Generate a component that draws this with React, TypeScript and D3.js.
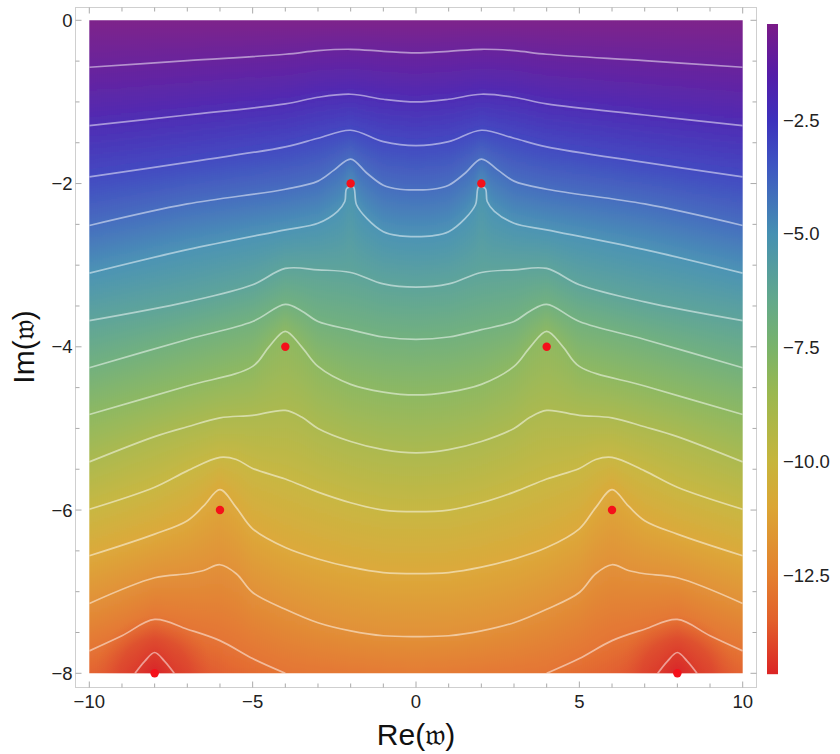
import React from 'react'
import * as d3 from 'd3'

type Knot = [number, number]

// contour lines, left half only (Re, Im); the plot is mirror symmetric about Re = 0
const contour1: Knot[] = [[-10, -0.575], [-7, -0.494], [-4, -0.416], [-3, -0.371], [-2, -0.355], [-1, -0.38], [0, -0.4]]
const contour2: Knot[] = [[-10, -1.29], [-7, -1.16], [-4, -1.024], [-3, -0.943], [-2, -0.906], [-1, -0.967], [0, -1.0]]
const contour3: Knot[] = [[-10, -1.918], [-7, -1.74], [-4, -1.55], [-3, -1.445], [-2, -1.347], [-1, -1.486], [0, -1.535]]
const contour4: Knot[] = [[-10, -2.514], [-7, -2.25], [-4, -2.07], [-3, -1.97], [-2.5, -1.833], [-2, -1.7], [-1.5, -1.874], [-1, -2.02], [-0.5, -2.07], [0, -2.078]]
const contour5: Knot[] = [[-10, -3.098], [-7, -2.81], [-4, -2.567], [-3, -2.486], [-2.4, -2.34], [-2.18, -2.22], [-2.12, -2.06], [-1.92, -2.04], [-1.82, -2.26], [-1.5, -2.43], [-1, -2.59], [-0.5, -2.64], [0, -2.65]]
const contour6: Knot[] = [[-10, -3.68], [-7, -3.45], [-5, -3.24], [-4, -3.04], [-3, -3.057], [-2, -3.09], [-1, -3.23], [0, -3.27]]
const contour7: Knot[] = [[-10, -4.257], [-7, -3.91], [-5, -3.69], [-4, -3.48], [-3.5, -3.56], [-3, -3.69], [-2, -3.79], [-1, -3.88], [0, -3.91]]
const contour8: Knot[] = [[-10, -4.83], [-7, -4.48], [-5, -4.24], [-4.5, -4.0], [-4, -3.81], [-3.5, -4.0], [-3, -4.24], [-2, -4.46], [-1, -4.555], [0, -4.59]]
const contour9: Knot[] = [[-10, -5.41], [-8, -5.1], [-7, -4.98], [-6, -4.87], [-5, -4.84], [-4, -4.78], [-3.5, -4.86], [-3, -5.0], [-2, -5.16], [-1, -5.26], [0, -5.3]]
const contour10: Knot[] = [[-10, -5.99], [-8, -5.72], [-7, -5.52], [-6, -5.355], [-5.5, -5.38], [-5, -5.49], [-4, -5.62], [-3, -5.78], [-2, -5.91], [-1, -6.0], [0, -6.02]]
const contour11: Knot[] = [[-10, -6.56], [-8, -6.295], [-7, -6.13], [-6.5, -5.95], [-6, -5.75], [-5.5, -5.97], [-5, -6.23], [-4, -6.46], [-3, -6.6], [-2, -6.7], [-1, -6.766], [0, -6.78]]
const contour12: Knot[] = [[-10, -7.145], [-8, -6.83], [-7, -6.78], [-6.5, -6.74], [-6, -6.67], [-5.5, -6.78], [-5, -7.01], [-4, -7.215], [-3, -7.38], [-2, -7.48], [-1, -7.54], [0, -7.55]]
const contour13: Knot[] = [[-10, -7.725], [-9, -7.54], [-8, -7.34], [-7, -7.46], [-6, -7.6], [-5, -7.82], [-4, -8]]
const contour14: Knot[] = [[-8.6, -8], [-8.3, -7.85], [-8, -7.745], [-7.7, -7.85], [-7.4, -8]]
const contours = [contour1, contour2, contour3, contour4, contour5, contour6, contour7, contour8, contour9, contour10, contour11, contour12, contour13, contour14]
const levels = [-1, -2, -3, -4, -5, -6, -7, -8, -9, -10, -11, -12, -13, -14]

// field value along the bottom edge of the plot (left half)
const bottomEdge: Knot[] = [[-10, -13.5], [-8.6, -14], [-8, -14.68], [-7.4, -14], [-6, -13.6], [-4, -13], [-2, -12.85], [0, -12.75]]
const topValue = -0.39
const minValue = -14.68

const poles: Knot[] = [[-8, -8], [-6, -6], [-4, -4], [-2, -2], [2, -2], [4, -4], [6, -6], [8, -8]]

const colorValues = [-0.39, -1.5, -2.5, -3.5, -5, -6.5, -7.5, -8.5, -10, -11, -12.5, -13.5, -14.68]
const colorStops = ['#7a1a87', '#541ca8', '#3c30bc', '#3d55c2', '#4590b2', '#63a98a', '#79b36a', '#9ab84f', '#c6b53c', '#dba634', '#e4802e', '#e2602b', '#db2424']

const xMajor = [-10, -5, 0, 5, 10]
const xMinor = [-9, -8, -7, -6, -4, -3, -2, -1, 1, 2, 3, 4, 6, 7, 8, 9]
const yMajor = [0, -2, -4, -6, -8]
const yMinor = [-0.5, -1, -1.5, -2.5, -3, -3.5, -4.5, -5, -5.5, -6.5, -7, -7.5]
const barTicks = [-2.5, -5, -7.5, -10, -12.5]

const width = 840
const height = 754
const frame = { left: 75.5, right: 756.5, top: 7.5, bottom: 687.5 }

const x = d3.scaleLinear().domain([-10, 10]).range([89.3, 742.7])
const y = d3.scaleLinear().domain([0, -8]).range([20.3, 673.3])
const barY = d3.scaleLinear().domain([-2.5, -12.5]).range([120, 575])
const color = d3.scaleLinear<string>().domain(colorValues).range(colorStops).interpolate(d3.interpolateRgb)

const line = d3.line<Knot>().x(d => x(d[0])).y(d => y(d[1])).curve(d3.curveCatmullRom.alpha(0.5))
const mirror = (k: Knot[]): Knot[] => k.map(d => [-d[0], d[1]] as Knot).reverse()
const fmt = (v: number) => String(v).replace('-', '\u2212')
const fmtBar = (v: number) => v.toFixed(1).replace('-', '\u2212')

const lookup = (k: Knot[]) => d3.scaleLinear().domain(k.map(d => d[0])).range(k.map(d => d[1]))

// one vertical gradient per narrow column, with a stop wherever a contour crosses it
const columnStep = 2
const bleed = 8
const columns = d3.range(x.range()[0] - bleed, x.range()[1] + bleed, columnStep).map((px, i) => {
  const re = Math.max(-10, -Math.abs(x.invert(px + columnStep / 2)))
  const stops: { im: number; v: number }[] = [{ im: 0, v: topValue }]
  contours.forEach((k, j) => {
    if (re >= k[0][0] && re <= k[k.length - 1][0]) stops.push({ im: lookup(k)(re), v: levels[j] })
  })
  stops.push({ im: -8, v: lookup(bottomEdge)(re) })
  stops.sort((a, b) => b.im - a.im)
  return { id: `col${i}`, px, stops }
})

const tick = (key: string, x1: number, y1: number, x2: number, y2: number) => (
  <line key={key} x1={x1} y1={y1} x2={x2} y2={y2} stroke="#aaa" strokeWidth={1} />
)

export default function App() {
  return (
    <svg width={width} height={height} style={{ position: 'absolute', left: 0, top: 0, background: '#fff' }} fontFamily="'Liberation Sans', Arial, sans-serif">
      <defs>
        {columns.map(c => (
          <linearGradient key={c.id} id={c.id} gradientUnits="userSpaceOnUse" x1="0" y1={y(0)} x2="0" y2={y(-8)}>
            {c.stops.map((s, i) => (
              <stop key={i} offset={s.im / -8} stopColor={color(s.v)} />
            ))}
          </linearGradient>
        ))}
        <linearGradient id="bar" x1="0" y1="0" x2="0" y2="1">
          {colorValues.map((v, i) => (
            <stop key={i} offset={(barY(v) - barY(topValue)) / (barY(minValue) - barY(topValue))} stopColor={colorStops[i]} />
          ))}
        </linearGradient>
        <radialGradient id="halo">
          <stop offset="0" stopColor="#d62226" stopOpacity={0.6} />
          <stop offset="0.6" stopColor="#d8302a" stopOpacity={0.38} />
          <stop offset="1" stopColor="#e0502b" stopOpacity={0} />
        </radialGradient>
        <filter id="soft" x="-5%" y="-5%" width="110%" height="110%">
          <feGaussianBlur stdDeviation="1.5" />
        </filter>
        <clipPath id="plot">
          <rect x={x(-10)} y={y(0)} width={x(10) - x(-10)} height={y(-8) - y(0)} />
        </clipPath>
      </defs>

      {/* frame and ticks */}
      <rect x={frame.left} y={frame.top} width={frame.right - frame.left} height={frame.bottom - frame.top} fill="none" stroke="#cfcfcf" strokeWidth={1} />
      {xMajor.map(v => tick(`xb${v}`, x(v), frame.bottom, x(v), frame.bottom - 6))}
      {xMajor.map(v => tick(`xt${v}`, x(v), frame.top, x(v), frame.top + 6))}
      {xMinor.map(v => tick(`xbm${v}`, x(v), frame.bottom, x(v), frame.bottom - 4))}
      {xMinor.map(v => tick(`xtm${v}`, x(v), frame.top, x(v), frame.top + 4))}
      {yMajor.map(v => tick(`yl${v}`, frame.left, y(v), frame.left + 6, y(v)))}
      {yMajor.map(v => tick(`yr${v}`, frame.right, y(v), frame.right - 6, y(v)))}
      {yMinor.map(v => tick(`ylm${v}`, frame.left, y(v), frame.left + 4, y(v)))}
      {yMinor.map(v => tick(`yrm${v}`, frame.right, y(v), frame.right - 4, y(v)))}

      {/* field */}
      <g clipPath="url(#plot)">
        <g filter="url(#soft)">
          {columns.map(c => (
            <rect key={c.id} x={c.px} y={y(0) - bleed} width={columnStep + 0.5} height={y(-8) - y(0) + bleed * 2} fill={`url(#${c.id})`} />
          ))}
        </g>
        {poles.filter(p => p[1] === -8).map((p, i) => (
          <circle key={i} cx={x(p[0])} cy={y(p[1])} r={58} fill="url(#halo)" />
        ))}
        {contours.map((k, i) => {
          const closedAcross = k[k.length - 1][0] === 0
          const paths = closedAcross ? [k.concat(mirror(k).slice(1))] : [k, mirror(k)]
          return paths.map((p, j) => (
            <path key={`${i}-${j}`} d={line(p) ?? ''} fill="none" stroke="#fff" strokeOpacity={0.5} strokeWidth={1.7} />
          ))
        })}
      </g>

      {poles.map((p, i) => (
        <circle key={i} cx={x(p[0])} cy={y(p[1])} r={4.2} fill="#f5101a" />
      ))}

      {/* tick labels */}
      <g fontSize={18.5} fill="#222">
        {xMajor.map(v => (
          <text key={v} x={x(v)} y={frame.bottom + 20} textAnchor="middle">{fmt(v)}</text>
        ))}
        {yMajor.map(v => (
          <text key={v} x={frame.left - 3} y={y(v) + 6.5} textAnchor="end">{fmt(v)}</text>
        ))}
      </g>

      {/* colour bar */}
      <rect x={767} y={barY(topValue)} width={11} height={barY(minValue) - barY(topValue)} fill="url(#bar)" />
      <g fontSize={18.5} fill="#222">
        {barTicks.map(v => (
          <text key={v} x={783} y={barY(v) + 6.5}>{fmtBar(v)}</text>
        ))}
      </g>

      {/* axis titles */}
      <text x={416} y={745} fontSize={30} fill="#111" textAnchor="middle">Re(𝔴)</text>
      <text transform="translate(34,347) rotate(-90)" fontSize={30} fill="#111" textAnchor="middle">Im(𝔴)</text>
    </svg>
  )
}
